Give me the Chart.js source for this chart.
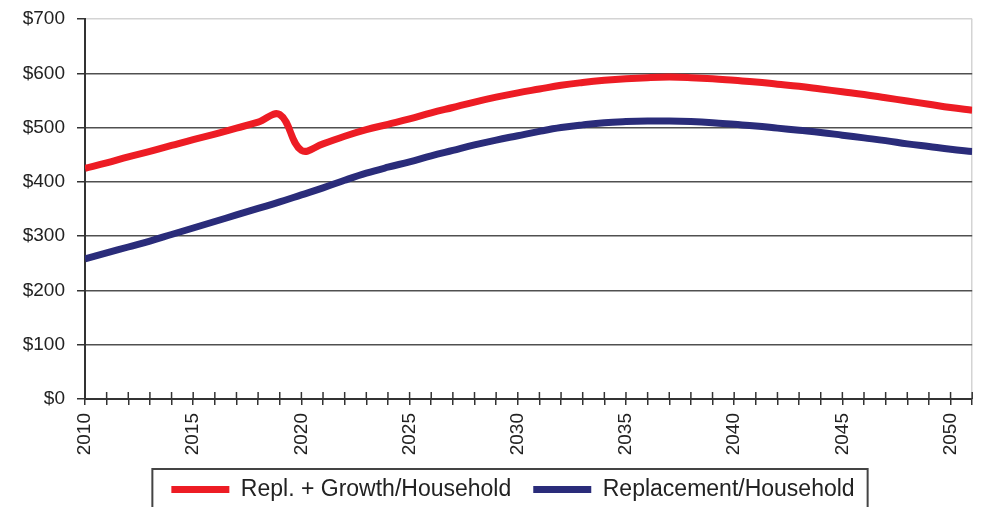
<!DOCTYPE html>
<html>
<head>
<meta charset="utf-8">
<script src="https://cdn.jsdelivr.net/npm/chart.js@4"></script>
<style>
    html, body { margin: 0; padding: 0; background: #fff; overflow: hidden; }
    #wrap { position: relative; width: 1003px; height: 511px; }
</style>
</head>
<body>
<div id="wrap"><canvas id="myChart"></canvas></div>
<script>
const years = [2010, 2011, 2012, 2013, 2014, 2015, 2016, 2017, 2018, 2019,
    2020, 2021, 2022, 2023, 2024, 2025, 2026, 2027, 2028, 2029,
    2030, 2031, 2032, 2033, 2034, 2035, 2036, 2037, 2038, 2039,
    2040, 2041, 2042, 2043, 2044, 2045, 2046, 2047, 2048, 2049,
    2050, 2051];

const replGrowth = [425, 435, 446, 456, 467, 478, 488, 499, 510, 524,
    458, 470, 484, 496, 506, 516, 527, 537, 547, 556,
    564, 571, 578, 583, 587, 590, 592, 593, 592, 590,
    587, 584, 580, 576, 571, 566, 561, 555, 549, 543,
    537, 532];

const replacement = [258, 269, 280, 291, 303, 315, 327, 339, 351, 363,
    376, 389, 403, 416, 427, 437, 448, 458, 468, 477,
    485, 493, 500, 505, 509, 511, 512, 512, 511, 509,
    506, 503, 499, 495, 491, 486, 481, 476, 470, 465,
    460, 456];

const seriesNames = ['Repl. + Growth/Household', 'Replacement/Household'];
const yTicks = [0, 100, 200, 300, 400, 500, 600, 700];

const fontFamily = "'Liberation Sans', Arial, sans-serif";

function toPoints(vals) {
    return years.map((yr, i) => ({ x: yr, y: vals[i] }));
}

// the legend sits a little right of the canvas centre
const legendShift = {
    id: 'legendShift',
    afterLayout(chart) {
        chart.legend.left += 44;
    }
};

// tick marks on the x axis cross the axis line, so add the upper half
const crossTicks = {
    id: 'crossTicks',
    afterDraw(chart) {
        const ctx = chart.ctx;
        const xs = chart.scales.x;
        const bottom = chart.chartArea.bottom;
        ctx.save();
        ctx.strokeStyle = '#333';
        ctx.lineWidth = 1.5;
        xs.ticks.forEach(t => {
            const px = xs.getPixelForValue(t.value);
            ctx.beginPath();
            ctx.moveTo(px, bottom - 7);
            ctx.lineTo(px, bottom);
            ctx.stroke();
        });
        ctx.restore();
    }
};

// frame round the legend
const legendFrame = {
    id: 'legendFrame',
    afterDraw(chart) {
        const boxes = chart.legend.legendHitBoxes;
        if (!boxes || !boxes.length) return;
        const first = boxes[0];
        const last = boxes[boxes.length - 1];
        const ctx = chart.ctx;
        ctx.save();
        ctx.strokeStyle = '#444';
        ctx.lineWidth = 2;
        ctx.strokeRect(first.left - 19, first.top - 9, last.left + last.width + 13 - (first.left - 19), 60);
        ctx.restore();
    }
};

const myChart = new Chart(document.getElementById('myChart'), {
    type: 'line',
    data: {
        datasets: [{
            label: seriesNames[0],
            data: toPoints(replGrowth),
            borderColor: '#ed1c24',
            backgroundColor: '#ed1c24',
            borderWidth: 7,
            pointRadius: 0,
            tension: 0.4,
            fill: false
        }, {
            label: seriesNames[1],
            data: toPoints(replacement),
            borderColor: '#2a2c7a',
            backgroundColor: '#2a2c7a',
            borderWidth: 7,
            pointRadius: 0,
            tension: 0.4,
            fill: false
        }]
    },
    options: {
        responsive: true,
        maintainAspectRatio: false,
        animation: false,
        layout: { padding: { top: 19, right: 21, left: 0, bottom: 0 } },
        plugins: {
            title: { display: false },
            tooltip: { enabled: false },
            legend: {
                position: 'bottom',
                labels: {
                    usePointStyle: true,
                    pointStyle: 'line',
                    pointStyleWidth: 58,
                    padding: 22,
                    color: '#222',
                    font: { family: fontFamily, size: 23 }
                }
            }
        },
        scales: {
            x: {
                type: 'linear',
                min: 2010,
                max: 2051,
                afterFit: scale => { scale.height = 57; },
                ticks: {
                    stepSize: 1,
                    autoSkip: false,
                    minRotation: 90,
                    maxRotation: 90,
                    padding: 8,
                    color: '#222',
                    font: { family: fontFamily, size: 19 },
                    callback: v => (v % 5 === 0 ? String(v) : '')
                },
                grid: {
                    drawOnChartArea: true,
                    color: c => (c.tick && c.tick.value === 2051 ? '#d4d4d4' : 'rgba(0,0,0,0)'),
                    tickColor: '#333',
                    tickLength: 6,
                    lineWidth: 1.5,
                    tickWidth: 1.5
                },
                border: { display: true, color: '#333', width: 2 }
            },
            y: {
                min: 0,
                max: 700,
                afterFit: scale => {
                    scale.width = 85;
                    scale.paddingTop = 0;
                    scale.paddingBottom = 0;
                },
                afterBuildTicks: scale => { scale.ticks = yTicks.map(v => ({ value: v })); },
                ticks: {
                    padding: 12,
                    color: '#222',
                    font: { family: fontFamily, size: 19 },
                    callback: v => '$' + v
                },
                grid: {
                    color: c => (c.tick && c.tick.value === 700 ? '#d4d4d4' : '#505050'),
                    tickColor: '#333',
                    tickLength: 8,
                    lineWidth: 1.5
                },
                border: { display: true, color: '#333', width: 2 }
            }
        }
    },
    plugins: [legendShift, crossTicks, legendFrame]
});
</script>
</body>
</html>
